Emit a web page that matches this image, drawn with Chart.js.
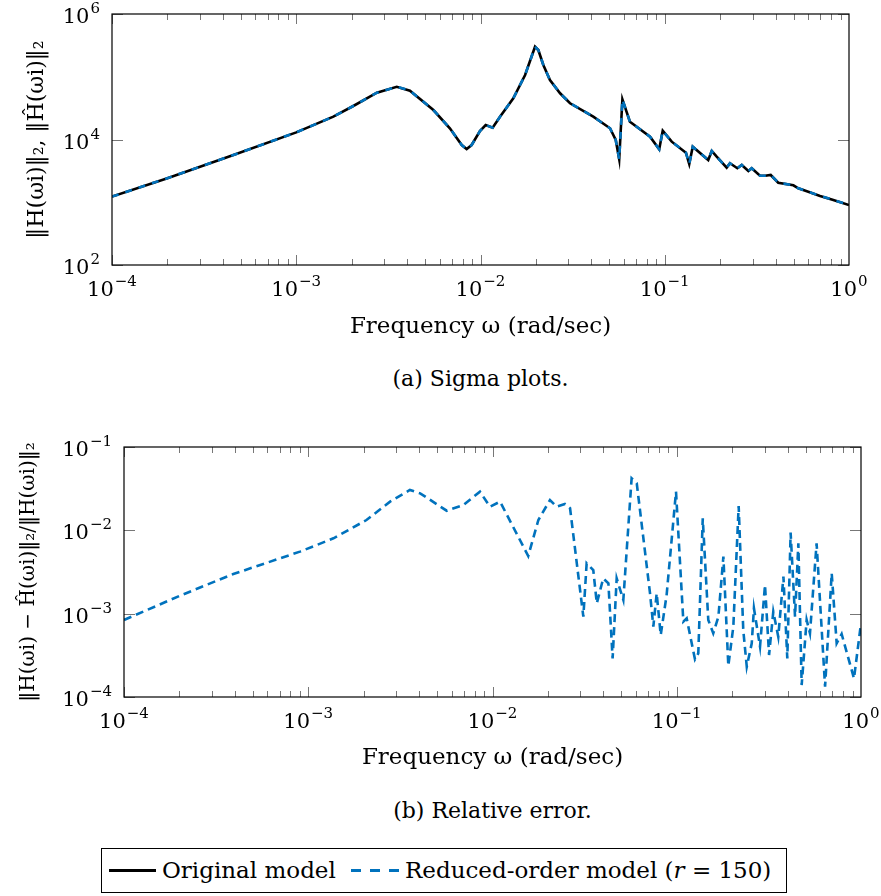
<!DOCTYPE html>
<html>
<head>
<meta charset="utf-8">
<script src="https://cdn.jsdelivr.net/npm/chart.js@4.4.0/dist/chart.umd.min.js"></script>
<style>
  body { margin: 0; background: #fff; font-family: "DejaVu Serif", serif; }
  #page { position: relative; width: 881px; height: 896px; }
  canvas { position: absolute; left: 0; }
  .cap { position: absolute; font-size: 22px; text-align: center; }
  #legend {
    position: absolute; left: 101px; top: 848px; width: 684px; height: 43px;
    border: 1px solid #000; font-size: 23px;
  }
  #legend span { position: absolute; }
  .txt { top: 8px; white-space: nowrap; }
  .sw { top: 20px; height: 3px; }
  .solid { left: 7px; width: 47px; background: #000; }
  .dash { left: 249px; width: 48px; background: repeating-linear-gradient(90deg, #0072bd 0 10px, transparent 10px 19px); }
</style>
</head>
<body>
<div id="page">
  <canvas id="sigma" width="881" height="350" style="top:0"></canvas>
  <div class="cap" style="left:112px; width:737px; top:366px;">(a) Sigma plots.</div>
  <canvas id="err" width="881" height="360" style="top:430px"></canvas>
  <div class="cap" style="left:124px; width:737px; top:798px;">(b) Relative error.</div>
  <div id="legend">
    <span class="sw solid"></span><span class="txt" style="left:60px">Original model</span>
    <span class="sw dash"></span><span class="txt" style="left:303px">Reduced-order model (<i>r</i> = 150)</span>
  </div>
</div>
<script>
// 축 눈금 (10^지수)
const xTickValues = [1e-4, 1e-3, 1e-2, 1e-1, 1];
const xTickExps = ['−4', '−3', '−2', '−1', '0'];
const sigmaYTicks = [1e2, 1e4, 1e6];
const sigmaYExps = ['2', '4', '6'];
const errYTicks = [1e-4, 1e-3, 1e-2, 1e-1];
const errYExps = ['−4', '−3', '−2', '−1'];

// (a) sigma plot
const sigmaFreq = [1e-4, 1.98e-4, 4.56e-4, 1e-3, 1.59e-3, 2.04e-3, 2.74e-3, 3.51e-3, 4.14e-3, 5.55e-3,
  6.82e-3, 7.91e-3, 8.41e-3, 8.95e-3, 9.93e-3, 0.01067, 0.01164, 0.01276, 0.01507, 0.01746,
  0.01977, 0.0206, 0.02193, 0.02382, 0.02704, 0.03062, 0.04093, 0.05047, 0.0542, 0.0566,
  0.0589, 0.0647, 0.0832, 0.0933, 0.0975, 0.1091, 0.1303, 0.1358, 0.1419, 0.1722,
  0.1799, 0.1914, 0.2168, 0.2259, 0.2477, 0.2618, 0.2844, 0.2965, 0.3289, 0.3508,
  0.3758, 0.4130, 0.4989, 0.5309, 0.6012, 0.6966, 0.8222, 1.0];
const originalMag = [1230, 2400, 5660, 13000, 23100, 34200, 55700, 69300, 60000, 29500,
  15100, 8170, 7060, 8170, 13600, 17000, 15400, 23100, 45400, 106700,
  301000, 267000, 154000, 88700, 54500, 37800, 23100, 15100, 9820, 4830,
  43700, 19200, 11100, 6980, 13800, 9230, 6170, 4070, 7690, 4710,
  6560, 5320, 3560, 4180, 3480, 3930, 3150, 3480, 2650, 2650,
  2720, 2050, 1860, 1670, 1470, 1260, 1090, 904];
// 축소 모델은 원래 모델과 그림에서 겹쳐 보임
const reducedMag = originalMag.slice();

// (b) relative error
const errFreq = [1e-4, 2.01e-4, 3.92e-4, 9.02e-4, 1.37e-3, 2.07e-3, 2.78e-3, 3.56e-3, 4.05e-3, 5.64e-3,
  6.95e-3, 8.55e-3, 9.68e-3, 0.01099, 0.01563, 0.01774, 0.02051, 0.02228, 0.02472, 0.02636,
  0.03112, 0.03243, 0.03524, 0.03681, 0.03990, 0.04256, 0.04487, 0.04721, 0.05129, 0.05689,
  0.06067, 0.07161, 0.07464, 0.07780, 0.08185, 0.08810, 0.09908, 0.1086, 0.1132, 0.1256,
  0.1309, 0.1384, 0.1483, 0.1578, 0.1683, 0.1791, 0.1905, 0.2028, 0.2168, 0.2296,
  0.2399, 0.2553, 0.2624, 0.2831, 0.3013, 0.3170, 0.3342, 0.3556, 0.3793, 0.3981,
  0.4150, 0.4385, 0.4571, 0.4764, 0.5070, 0.5284, 0.5741, 0.6383, 0.6934, 0.7379,
  0.7852, 0.9162, 1.0];
const relError = [8.4e-4, 1.64e-3, 2.99e-3, 5.55e-3, 8.02e-3, 0.0133, 0.0221, 0.0305, 0.0278, 0.0172,
  0.0201, 0.0291, 0.0192, 0.0221, 4.92e-3, 0.0133, 0.0231, 0.0192, 0.0207, 0.0184,
  9.2e-4, 4.02e-3, 3.34e-3, 1.33e-3, 2.65e-3, 2.31e-3, 2.91e-4, 2.65e-3, 1.46e-3, 0.0421,
  0.0366, 1.75e-3, 6.98e-4, 1.75e-3, 5.55e-4, 1.67e-3, 0.0291, 8.02e-4, 8.79e-4, 2.83e-4,
  3.34e-4, 0.0139, 8.4e-4, 5.81e-4, 9.2e-4, 4.83e-3, 2.36e-4, 6.98e-4, 0.0196, 6.37e-4,
  2.31e-4, 4.41e-4, 1.16e-3, 4.02e-4, 2.21e-3, 3.19e-4, 1.06e-3, 5.30e-4, 2.78e-3, 2.91e-4,
  9.38e-3, 9.2e-4, 6.98e-3, 1.39e-4, 8.4e-4, 5.81e-4, 6.98e-3, 1.33e-4, 3.05e-3, 4.41e-4,
  5.70e-4, 1.67e-4, 7.66e-4];

const FONT = '"DejaVu Serif", serif';
const BLUE = '#0072bd';

const toPoints = (xs, ys) => xs.map((x, i) => ({x: x, y: ys[i]}));

// 10^n 모양 눈금 글자 그리기
function drawPower(ctx, exp, x, y, align) {
  ctx.font = '21px ' + FONT;
  const wb = ctx.measureText('10').width;
  ctx.font = '15px ' + FONT;
  const we = ctx.measureText(exp).width;
  const total = wb + 1 + we;
  let x0 = x - total / 2;
  if (align === 'right') x0 = x - total;
  ctx.textAlign = 'left';
  ctx.textBaseline = 'alphabetic';
  ctx.font = '21px ' + FONT;
  ctx.fillText('10', x0, y);
  ctx.font = '15px ' + FONT;
  ctx.fillText(exp, x0 + wb + 1, y - 10);
}

// 안쪽으로 그리는 눈금 + 테두리 + 눈금 글자
const frameTicks = {
  id: 'frameTicks',
  afterDraw(chart, args, opts) {
    const ctx = chart.ctx;
    const a = chart.chartArea;
    const xs = chart.scales.x, ys = chart.scales.y;
    ctx.save();
    ctx.strokeStyle = '#777';
    ctx.lineWidth = 1;
    ctx.beginPath();
    for (let d = -4; d < 0; d++) {
      for (let m = 1; m <= 9; m++) {
        const v = m * Math.pow(10, d);
        const px = Math.round(xs.getPixelForValue(v)) + 0.5;
        const len = m === 1 ? 10 : 6;
        ctx.moveTo(px, a.bottom); ctx.lineTo(px, a.bottom - len);
        ctx.moveTo(px, a.top); ctx.lineTo(px, a.top + len);
      }
    }
    opts.yTicks.forEach(v => {
      const py = Math.round(ys.getPixelForValue(v)) + 0.5;
      ctx.moveTo(a.left, py); ctx.lineTo(a.left + 11, py);
      ctx.moveTo(a.right, py); ctx.lineTo(a.right - 11, py);
    });
    ctx.stroke();
    ctx.strokeStyle = '#000';
    ctx.lineWidth = 1.2;
    ctx.strokeRect(a.left, a.top, a.right - a.left, a.bottom - a.top);

    ctx.fillStyle = '#000';
    xTickValues.forEach((v, i) => {
      drawPower(ctx, xTickExps[i], xs.getPixelForValue(v), a.bottom + 31, 'center');
    });
    opts.yTicks.forEach((v, i) => {
      drawPower(ctx, opts.yExps[i], a.left - 12, ys.getPixelForValue(v) + 9, 'right');
    });
    ctx.restore();
  }
};

function makeOptions(c) {
  return {
    responsive: false,
    animation: false,
    layout: { padding: c.pad },
    plugins: {
      legend: { display: false },
      tooltip: { enabled: false },
      frameTicks: { yTicks: c.yTicks, yExps: c.yExps }
    },
    scales: {
      x: {
        type: 'logarithmic', min: 1e-4, max: 1,
        grid: { display: false, drawTicks: false },
        border: { display: false },
        afterBuildTicks: s => { s.ticks = xTickValues.map(v => ({value: v})); },
        afterFit: s => { s.height = c.xh; },
        ticks: { display: false },
        title: {
          display: true, text: 'Frequency ω (rad/sec)', color: '#000',
          font: { family: FONT, size: 23 }, padding: { top: 0, bottom: c.xtp }
        }
      },
      y: {
        type: 'logarithmic', min: c.yTicks[0], max: c.yTicks[c.yTicks.length - 1],
        grid: { display: false, drawTicks: false },
        border: { display: false },
        afterBuildTicks: s => { s.ticks = c.yTicks.map(v => ({value: v})); },
        afterFit: s => { s.width = c.yw; },
        ticks: { display: false },
        title: {
          display: true, text: c.yTitle, color: '#000',
          font: { family: FONT, size: c.yts }, padding: { top: c.ytp, bottom: 0 }
        }
      }
    }
  };
}

new Chart(document.getElementById('sigma'), {
  type: 'line',
  data: {
    datasets: [
      {
        label: 'Reduced-order model (r = 150)',
        data: toPoints(sigmaFreq, reducedMag),
        borderColor: BLUE, borderWidth: 2.6, borderDash: [7, 7],
        pointRadius: 0, tension: 0, order: 0
      },
      {
        label: 'Original model',
        data: toPoints(sigmaFreq, originalMag),
        borderColor: '#000', borderWidth: 2.6,
        pointRadius: 0, tension: 0, order: 1
      }
    ]
  },
  options: makeOptions({
    pad: { top: 14, right: 32, bottom: 0, left: 0 },
    xh: 85, xtp: 9, yw: 112, ytp: 24, yts: 22,
    yTicks: sigmaYTicks, yExps: sigmaYExps,
    yTitle: '‖H(ωi)‖₂, ‖Ĥ(ωi)‖₂'
  }),
  plugins: [frameTicks]
});

new Chart(document.getElementById('err'), {
  type: 'line',
  data: {
    datasets: [
      {
        label: 'Reduced-order model (r = 150)',
        data: toPoints(errFreq, relError),
        borderColor: BLUE, borderWidth: 2.6, borderDash: [8, 5],
        pointRadius: 0, tension: 0
      }
    ]
  },
  options: makeOptions({
    pad: { top: 17, right: 20, bottom: 0, left: 0 },
    xh: 93, xtp: 18, yw: 124, ytp: 17, yts: 20,
    yTicks: errYTicks, yExps: errYExps,
    yTitle: '‖H(ωi) − Ĥ(ωi)‖₂/‖H(ωi)‖₂'
  }),
  plugins: [frameTicks]
});
</script>
</body>
</html>
